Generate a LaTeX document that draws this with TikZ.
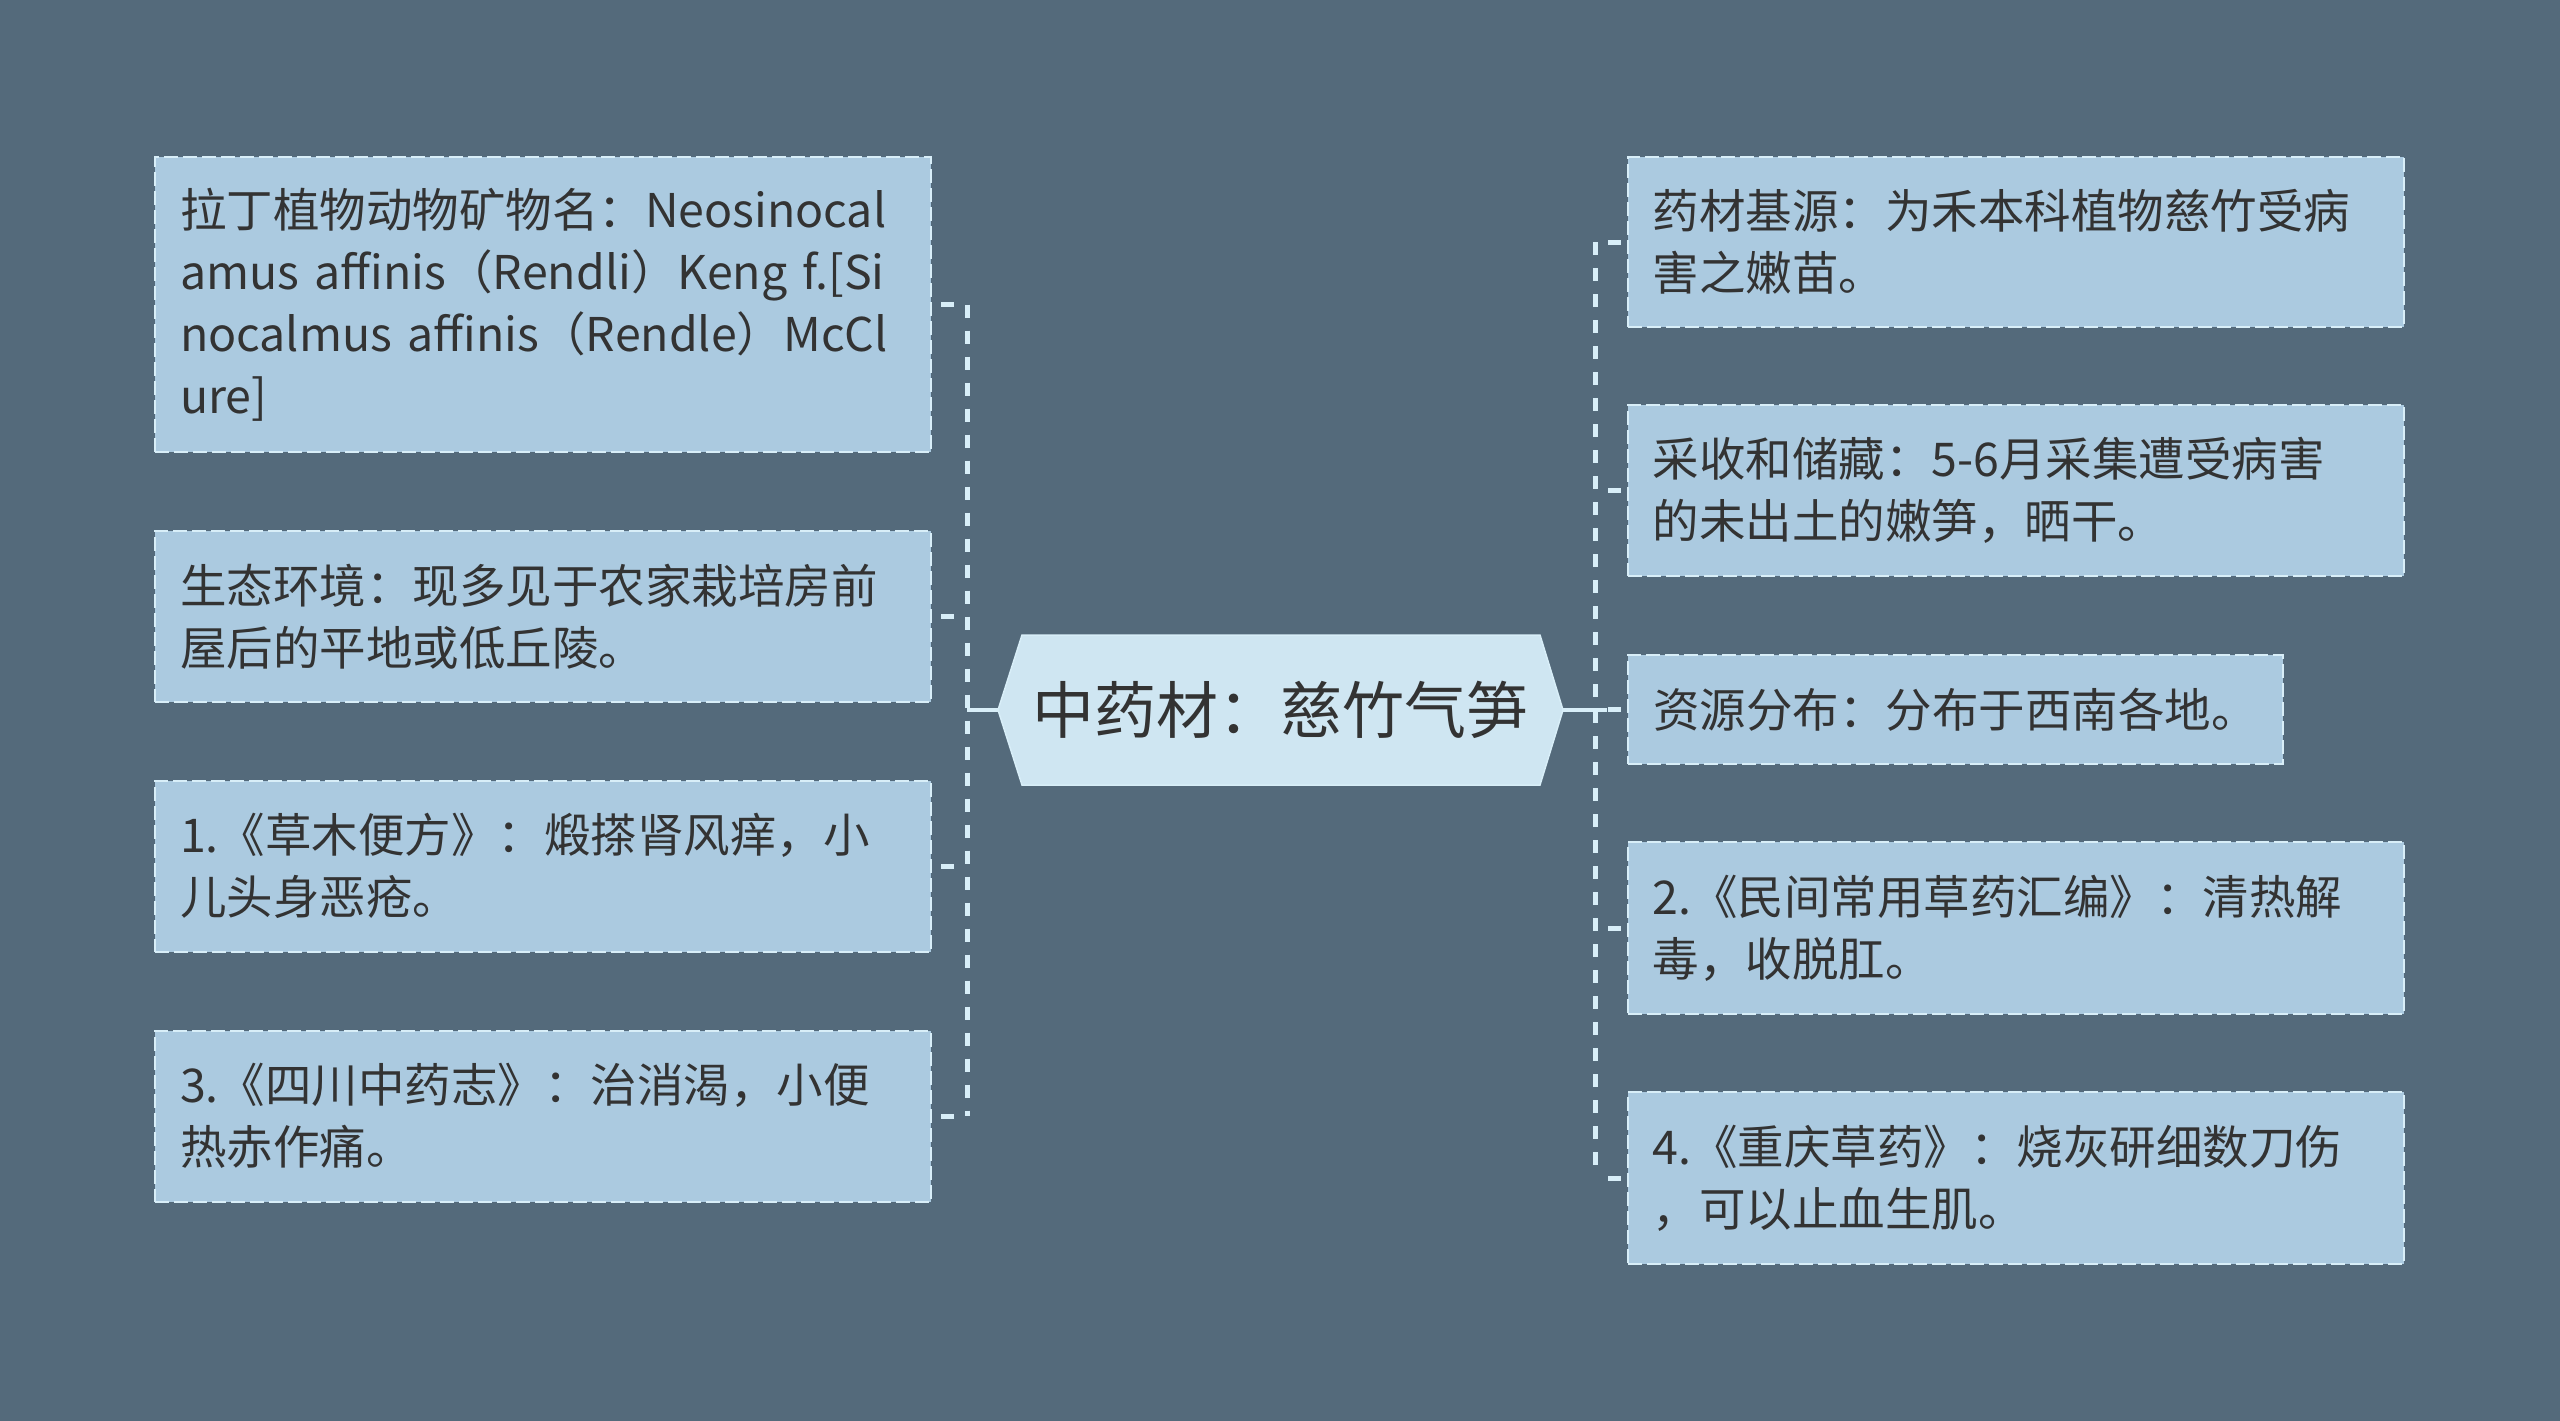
\documentclass[tikz,border=0pt]{standalone}
\usepackage{fontspec}
\setmainfont{Noto Sans CJK SC}
\definecolor{bg}{HTML}{546A7B}
\definecolor{boxfill}{HTML}{ABCAE0}
\definecolor{cfill}{HTML}{CFE6F2}
\definecolor{edge}{HTML}{D8EEF8}
\definecolor{txt}{HTML}{333333}
\begin{document}
\begin{tikzpicture}[x=1pt,y=-1pt,
  leaf/.style={draw=edge, line width=2pt, dash pattern=on 14pt off 5pt, fill=boxfill,
    text=txt, font=\fontsize{46.5}{62}\selectfont, align=left,
    inner xsep=25pt, inner ysep=0pt, text width=726pt},
  conn/.style={draw=edge, line width=5pt, dash pattern=on 13pt off 13pt},
  stub/.style={draw=edge, line width=5pt, dash pattern=on 13pt off 13pt, dash phase=13pt},
  solidconn/.style={draw=edge, line width=4pt},
  central/.style={text=txt, font=\fontsize{62}{70}\selectfont, inner sep=0pt,
    minimum width=565pt, minimum height=150pt}
]
\fill[bg] (0,0) rectangle (2560,1421);
\useasboundingbox (0,0) rectangle (2560,1421);

% central node
\filldraw[fill=cfill, draw=edge, line width=1.5pt] (998,710) -- (1022,635) -- (1540,635) -- (1563,710) -- (1540,785) -- (1022,785) -- cycle;
\node[central] (c) at (1280.5,710) {中药材：慈竹气笋};

% left leaves
\node[leaf, minimum height=295pt] (L1) at (543,304.5)
  {拉丁植物动物矿物名：Neosinocal\\amus affinis（Rendli）Keng f.[Si\\nocalmus affinis（Rendle）McCl\\ure]};
\node[leaf, minimum height=171pt] (L2) at (543,616.5)
  {生态环境：现多见于农家栽培房前\\屋后的平地或低丘陵。};
\node[leaf, minimum height=171pt] (L3) at (543,866)
  {1.《草木便方》：煅搽肾风痒，小\\儿头身恶疮。};
\node[leaf, minimum height=171pt] (L4) at (543,1116)
  {3.《四川中药志》：治消渴，小便\\热赤作痛。};

% right leaves
\node[leaf, minimum height=170pt] (R1) at (2015.5,242)
  {药材基源：为禾本科植物慈竹受病\\害之嫩苗。};
\node[leaf, minimum height=171pt] (R2) at (2015.5,490.5)
  {采收和储藏：5-6月采集遭受病害\\的未出土的嫩笋，晒干。};
\node[leaf, minimum height=109pt, text width=605pt] (R3) at (1955.5,709.5)
  {资源分布：分布于西南各地。};
\node[leaf, minimum height=172pt] (R4) at (2015.5,928)
  {2.《民间常用草药汇编》：清热解\\毒，收脱肛。};
\node[leaf, minimum height=172pt] (R5) at (2015.5,1178)
  {4.《重庆草药》：烧灰研细数刀伤\\，可以止血生肌。};

% connectors
\coordinate (jl) at (967,710);
\coordinate (jr) at (1595,710);
\draw[solidconn] (c.west) -- (jl);
\draw[solidconn] (c.east) -- ([xshift=12pt]jr);
\draw[conn] (L1.east -| jl) -- (L4.east -| jl);
\draw[conn] (R1.west -| jr) -- (R5.west -| jr);
\foreach \n in {L1,L2,L3,L4} {\draw[stub] (\n.east -| jl) -- (\n.east);}
\foreach \n in {R1,R2,R3,R4,R5} {\draw[stub] (\n.west -| jr) -- (\n.west);}
\end{tikzpicture}
\end{document}
